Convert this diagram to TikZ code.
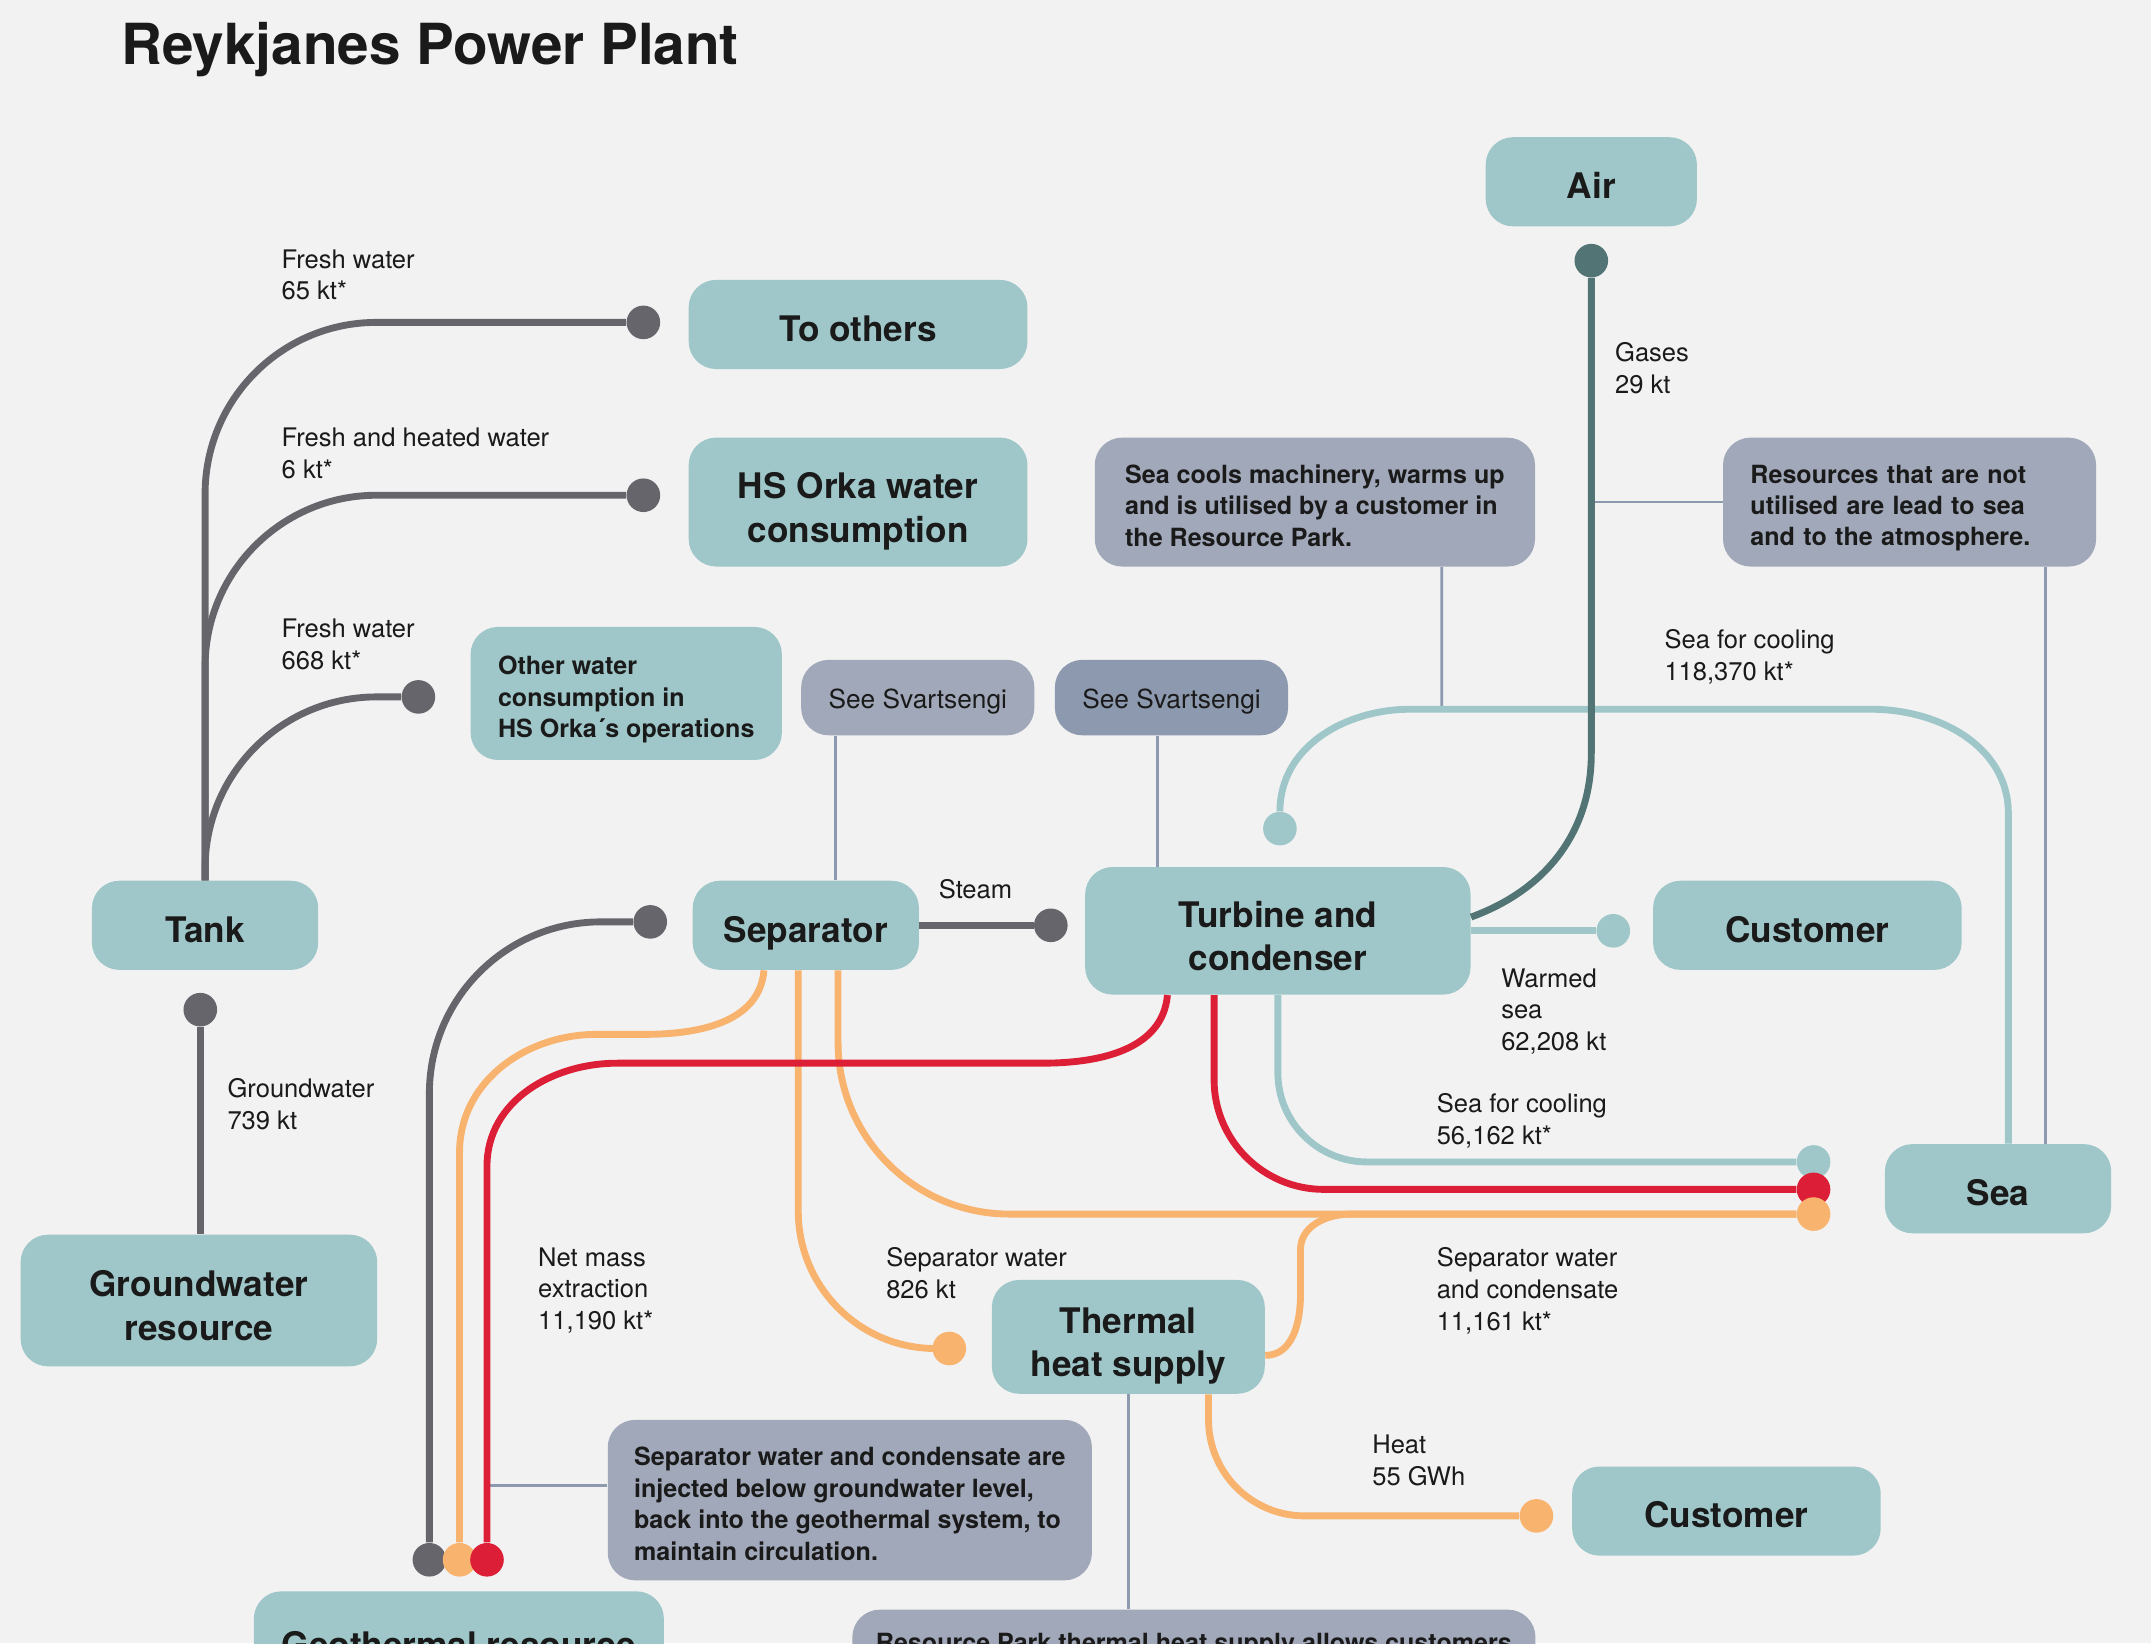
\documentclass[tikz,border=0pt]{standalone}
\usepackage{fontspec}
\setmainfont{TeX Gyre Heros}
\usetikzlibrary{shapes.geometric, arrows}

\definecolor{paper}{HTML}{F2F2F2}
\definecolor{ink}{HTML}{1A1A1A}
\definecolor{boxteal}{HTML}{9FC7C9}
\definecolor{notegrey}{HTML}{A0A8B9}
\definecolor{notedark}{HTML}{8D99AE}
\definecolor{leadergrey}{HTML}{8D99AE}
\definecolor{pipegrey}{HTML}{67656C}
\definecolor{gasteal}{HTML}{527474}
\definecolor{seateal}{HTML}{9FC7C9}
\definecolor{heatorange}{HTML}{F8B36E}
\definecolor{brinered}{HTML}{DC1F37}

\newcommand{\titlefont}{\fontsize{23.5}{27}\selectfont\bfseries}
\newcommand{\boxfont}{\fontsize{14.6}{18.2}\selectfont\bfseries}
\newcommand{\notefont}{\fontsize{10.4}{13.05}\selectfont\bfseries}
\newcommand{\flowfont}{\fontsize{10.6}{13.2}\selectfont}
\newcommand{\seefont}{\fontsize{10.9}{13}\selectfont}

\tikzstyle{box} = [rectangle, rounded corners=0.4cm, minimum width=3.3cm,
  minimum height=1.3cm, inner sep=0pt, text centered, align=center,
  fill=boxteal, text=ink, font=\boxfont]
\tikzstyle{block} = [box, text height=0.49cm, text depth=0pt]
\tikzstyle{twoline} = [box, text height=1.17cm, text depth=0pt]
\tikzstyle{note} = [rectangle, rounded corners=0.4cm, inner sep=0pt,
  align=left, fill=notegrey, text=ink, font=\notefont]
\tikzstyle{threeline} = [text height=1.283cm, text depth=0pt]
\tikzstyle{seebox} = [note, minimum width=3.4cm, minimum height=1.1cm,
  align=center, font=\seefont, text height=0.316cm, text depth=0pt]
\tikzstyle{flowlabel} = [anchor=north west, inner sep=0pt, align=left,
  text=ink, font=\flowfont]
\tikzstyle{dot} = [circle, inner sep=0pt, minimum size=0.49cm]
\tikzstyle{pipe} = [line width=0.1cm]
\tikzstyle{leader} = [line width=1.1pt, draw=leadergrey]

\begin{document}
\begin{tikzpicture}[x=0.02cm, y=-0.02cm, node distance=2cm]

  \clip (0,0) rectangle (1568,1198);
  \fill [paper] (0,0) rectangle (1568,1198);

  %% Title
  \node (title) [anchor=north west, inner sep=0pt, text=ink, font=\titlefont] at (88,16) {Reykjanes Power Plant};

  %% Boxes
  \node (air) [block, minimum width=3.08cm] at (1160,132.5) {Air};
  \node (toothers) [block, minimum width=4.94cm] at (625.5,236.5) {To others};
  \node (hsorka) [twoline, below of=toothers, yshift=-0.59cm, minimum width=4.94cm, minimum height=1.88cm] {HS Orka water\\consumption};
  \node (otherwater) [box, threeline, minimum width=4.54cm, minimum height=1.94cm, align=left, font=\notefont] at (456.5,505.5) {Other water\\consumption in\\HS Orka´s operations};
  \node (seesvA) [seebox] at (669,508.5) {See Svartsengi};
  \node (seesvB) [seebox, right of=seesvA, xshift=1.7cm, fill=notedark] {See Svartsengi};
  \node (seacools) [note, threeline, minimum width=6.42cm, minimum height=1.88cm] at (958.5,366) {Sea cools machinery, warms up\\and is utilised by a customer in\\the Resource Park.};
  \node (resources) [note, text width=4.64cm, text height=0.363cm, text depth=0.92cm, minimum width=5.44cm, minimum height=1.88cm] at (1392,366) {Resources that are not\\utilised are lead to sea\\and to the atmosphere.};
  \node (tank) [block] at (149.5,674.5) {Tank};
  \node (separator) [block, right of=tank, xshift=6.76cm] {Separator};
  \node (turbine) [twoline, minimum width=5.62cm, minimum height=1.86cm] at (931.5,678.5) {Turbine and\\condenser};
  \node (customerA) [block, minimum width=4.5cm] at (1317.5,674.5) {Customer};
  \node (sea) [block] at (1456.5,866.5) {Sea};
  \node (ground) [twoline, minimum width=5.2cm, minimum height=1.92cm] at (145,948) {Groundwater\\resource};
  \node (thermal) [twoline, minimum width=3.98cm, minimum height=1.66cm] at (822.5,974.5) {Thermal\\heat supply};
  \node (customerB) [block, minimum width=4.5cm] at (1258.5,1101.5) {Customer};
  \node (injectnote) [note, text height=1.753cm, text depth=0pt, minimum width=7.06cm, minimum height=2.34cm] at (619.5,1093.5) {Separator water and condensate are\\injected below groundwater level,\\back into the geothermal system, to\\maintain circulation.};
  \node (geothermal) [block, minimum width=5.98cm, minimum height=1.44cm] at (334.5,1196) {Geothermal resource};
  \node (parknote) [note, anchor=north west, inner ysep=0.35cm, minimum width=9.96cm] at (621,1173) {Resource Park thermal heat supply allows customers};

  %% End dots
  \node (toothersdot) [dot, fill=pipegrey] at (469,235) {};
  \node (hsorkadot) [dot, fill=pipegrey] at (469,361) {};
  \node (otherdot) [dot, fill=pipegrey] at (305,508) {};
  \node (tankdot) [dot, fill=pipegrey] at (146,736) {};
  \node (sepdot) [dot, fill=pipegrey] at (474,672) {};
  \node (steamdot) [dot, fill=pipegrey] at (766,674.5) {};
  \node (geogreydot) [dot, fill=pipegrey] at (313,1137) {};
  \node (geoorangedot) [dot, fill=heatorange] at (335,1137) {};
  \node (georeddot) [dot, fill=brinered] at (355,1137) {};
  \node (sepwaterdot) [dot, fill=heatorange] at (692,983) {};
  \node (coolindot) [dot, fill=seateal] at (933,604) {};
  \node (warmdot) [dot, fill=seateal] at (1176,678.5) {};
  \node (seatealdot) [dot, fill=seateal] at (1322,847) {};
  \node (searеddot) [dot, fill=brinered] at (1322,867) {};
  \node (seaorangedot) [dot, fill=heatorange] at (1322,885) {};
  \node (airdot) [dot, fill=gasteal] at (1160,190) {};
  \node (heatdot) [dot, fill=heatorange] at (1120,1105) {};

  \coordinate (coolrun) at (1051,517);
  \coordinate (gasbend) at (1160,549);

  %% Thin lines from the notes
  \draw [leader] ([xshift=-1.2cm]seesvA.south) -- ([xshift=-1.2cm]seesvA.south |- separator.north);
  \draw [leader] ([xshift=-0.2cm]seesvB.south) -- ([xshift=-0.2cm]seesvB.south |- turbine.north);
  \draw [leader] ([xshift=1.85cm]seacools.south) -- (coolrun);
  \draw [leader] (resources.west) -- (resources.west -| airdot);
  \draw [leader] ([xshift=1.98cm]resources.south) -- ([xshift=1.98cm]resources.south |- sea.north);
  \draw [leader] ([yshift=0.21cm]injectnote.west) -- ([yshift=0.21cm]injectnote.west -| georeddot);
  \draw [leader] (thermal.south) -- (thermal.south |- parknote.north);

  %% Fresh water and groundwater
  \draw [pipe, pipegrey, rounded corners=2.5cm] (tank.north) |- (toothersdot);
  \draw [pipe, pipegrey, rounded corners=2.5cm] (tank.north) |- (hsorkadot);
  \draw [pipe, pipegrey, rounded corners=2.5cm] (tank.north) |- (otherdot);
  \draw [pipe, pipegrey] (ground.north -| tankdot) -- (tankdot);
  \draw [pipe, pipegrey] (separator.east) -- (steamdot);
  \draw [pipe, pipegrey, rounded corners=2.5cm] (geogreydot) |- (sepdot);

  %% Separator water
  \draw [pipe, heatorange] ([xshift=-0.61cm]separator.south) to[out=-95,in=0] (470,754) -- (435,754) to[out=180,in=90] (335,840) -- (geoorangedot);
  \draw [pipe, heatorange, rounded corners=2cm] ([xshift=-0.11cm]separator.south) |- (sepwaterdot);
  \draw [pipe, heatorange, rounded corners=2.5cm] ([xshift=0.47cm]separator.south) |- (seaorangedot);
  \draw [pipe, heatorange] ([yshift=-0.27cm]thermal.east) to[out=0,in=-90] (948,944) -- (948,911) to[out=90,in=180] (985,885) -- (seaorangedot);
  \draw [pipe, heatorange, rounded corners=1.4cm] ([xshift=1.17cm]thermal.south) |- (heatdot);

  %% Condensate
  \draw [pipe, brinered] ([xshift=-1.61cm]turbine.south) to[out=-95,in=0] (760,775) -- (450,775) to[out=180,in=90] (355,850) -- (georeddot);
  \draw [pipe, brinered, rounded corners=1.6cm] ([xshift=-0.93cm]turbine.south) |- (searеddot);

  %% Sea
  \draw [pipe, seateal, rounded corners=1.3cm] (turbine.south) |- (seatealdot);
  \draw [pipe, seateal] (turbine.east) -- (warmdot);
  \draw [pipe, seateal] ([xshift=0.15cm]sea.north) -- (1464,593) to[out=90,in=0] (1364,517) -- (coolrun) -- (1028,517) to[out=180,in=90] (coolindot);

  %% Gases
  \draw [pipe, gasteal] ([yshift=0.2cm]turbine.east) to[out=20,in=-90] (gasbend) -- (airdot);

  %% Flow labels
  \node (lblfreshA) [flowlabel] at (205,181.5) {Fresh water\\65 kt*};
  \node (lblfreshB) [flowlabel] at (205,311.7) {Fresh and heated water\\6 kt*};
  \node (lblfreshC) [flowlabel] at (205,451) {Fresh water\\668 kt*};
  \node (lblgases) [flowlabel] at (1177,249.5) {Gases\\29 kt};
  \node (lblcoolA) [flowlabel] at (1213,458.6) {Sea for cooling\\118,370 kt*};
  \node (lblsteam) [flowlabel] at (684,641) {Steam};
  \node (lblwarm) [flowlabel] at (1094,705.6) {Warmed\\sea\\62,208 kt};
  \node (lblcoolB) [flowlabel] at (1047,796.6) {Sea for cooling\\56,162 kt*};
  \node (lblsepcond) [flowlabel] at (1047,909) {Separator water\\and condensate\\11,161 kt*};
  \node (lblheat) [flowlabel] at (1000,1045.5) {Heat\\55 GWh};
  \node (lblground) [flowlabel] at (165.5,785.6) {Groundwater\\739 kt};
  \node (lblnetmass) [flowlabel] at (392,909) {Net mass\\extraction\\11,190 kt*};
  \node (lblsepwater) [flowlabel] at (645.7,909) {Separator water\\826 kt};

\end{tikzpicture}
\end{document}
